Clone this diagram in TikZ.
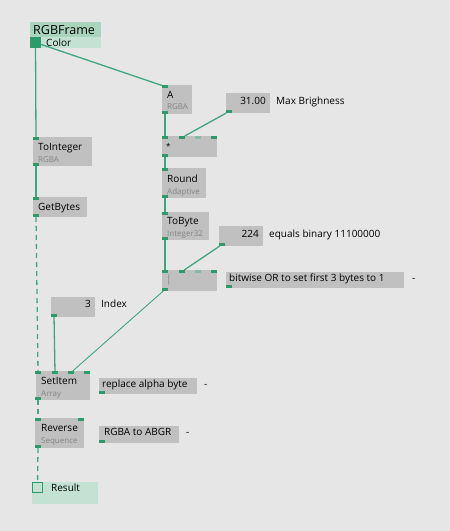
\documentclass[tikz,border=0pt]{standalone}
\usepackage{fontspec}
\setmainfont{Open Sans}
\usepackage{xcolor}
\usetikzlibrary{positioning, calc}

\definecolor{bgcol}{HTML}{E6E6E6}
\definecolor{boxgray}{HTML}{C0C0C0}
\definecolor{pingreen}{HTML}{2D9A6C}
\definecolor{pinoff}{HTML}{86B9A2}
\definecolor{wiregreen}{HTML}{3FA67D}
\definecolor{headgreen}{HTML}{A9D5BF}
\definecolor{bodygreen}{HTML}{C3E2D3}
\definecolor{subgray}{HTML}{858585}

\begin{document}
\begin{tikzpicture}[
        x=1pt, y=-1pt,
        patch/.style={rectangle, fill=boxgray, anchor=north west, inner sep=0pt, outer sep=0pt},
        inpin/.style={rectangle, fill=pingreen, minimum width=6pt, minimum height=3pt, inner sep=0pt, outer sep=0pt, anchor=north west},
        outpin/.style={inpin, anchor=south west},
        offpin/.style={inpin, fill=pinoff},
        ttl/.style={anchor=base west, inner sep=0pt, font=\fontsize{10}{12}\selectfont},
        sub/.style={anchor=base west, inner sep=0pt, text=subgray, font=\fontsize{8}{9}\selectfont},
        val/.style={anchor=base east, inner sep=0pt, font=\fontsize{10}{12}\selectfont},
        wire/.style={draw=wiregreen, line width=1.3pt},
        thinwire/.style={draw=wiregreen, line width=0.9pt},
        spreadwire/.style={wire, dash pattern=on 5pt off 4pt}
    ]
        \useasboundingbox (0,0) rectangle (450,531);
        \fill[bgcol] (0,0) rectangle (450,531);

        % RGBFrame
        \node[patch, fill=headgreen, minimum width=71pt, minimum height=15pt] (frame) at (30,22) {};
        \node[patch, fill=bodygreen, minimum width=71pt, minimum height=11pt] (framebody) at (30,37) {};
        \node[patch, fill=pingreen, minimum width=11pt, minimum height=11pt] (frame-out) at (30,37) {};
        \node[ttl, font=\fontsize{12.5}{14}\selectfont] (frame-t) at (33,34) {RGBFrame};
        \node[ttl] (frame-s) at (46,46) {Color};

        % A (RGBA)
        \node[patch, minimum width=30pt, minimum height=29pt] (a) at (162,85) {};
        \node[inpin] (a-in) at (162,85) {};
        \node[outpin] (a-out) at (162,114) {};
        \node[ttl] (a-t) at (167,98) {A};
        \node[sub] (a-s) at (167,109) {RGBA};

        % Max Brighness
        \node[patch, minimum width=44pt, minimum height=20pt] (val31) at (226,93) {};
        \node[outpin] (val31-out) at (226,113) {};
        \node[val] (val31-t) at (266,104) {31.00};
        \node[ttl] (val31-l) at (276,104) {Max Brighness};

        % Multiply
        \node[patch, minimum width=55pt, minimum height=21pt] (mul) at (162,136) {};
        \node[inpin] (mul-in1) at (162,136) {};
        \node[inpin] (mul-in2) at (179,136) {};
        \node[offpin] (mul-in3) at (195,136) {};
        \node[inpin] (mul-in4) at (211,136) {};
        \node[outpin] (mul-out) at (162,157) {};
        \node[ttl, font=\fontsize{8}{9}\selectfont] (mul-t) at (166,149) {*};

        % ToInteger
        \node[patch, minimum width=59pt, minimum height=29pt] (toint) at (33,137) {};
        \node[inpin] (toint-in) at (33,137) {};
        \node[outpin] (toint-out) at (33,166) {};
        \node[ttl] (toint-t) at (38,150) {ToInteger};
        \node[sub] (toint-s) at (38,162) {RGBA};

        % GetBytes
        \node[patch, minimum width=54pt, minimum height=20pt] (getb) at (33,197) {};
        \node[inpin] (getb-in) at (33,197) {};
        \node[outpin] (getb-out) at (33,217) {};
        \node[ttl] (getb-t) at (38,210) {GetBytes};

        % Round
        \node[patch, minimum width=44pt, minimum height=30pt] (round) at (162,168) {};
        \node[inpin] (round-in) at (162,168) {};
        \node[outpin] (round-out) at (162,198) {};
        \node[ttl] (round-t) at (167,182) {Round};
        \node[sub] (round-s) at (167,194) {Adaptive};

        % ToByte
        \node[patch, minimum width=47pt, minimum height=28pt] (tobyte) at (162,212) {};
        \node[inpin] (tobyte-in) at (162,212) {};
        \node[outpin] (tobyte-out) at (162,240) {};
        \node[ttl] (tobyte-t) at (167,224) {ToByte};
        \node[sub] (tobyte-s) at (167,236) {Integer32};

        % mask value
        \node[patch, minimum width=44pt, minimum height=20pt] (val224) at (219,226) {};
        \node[outpin] (val224-out) at (219,246) {};
        \node[val] (val224-t) at (259,237) {224};
        \node[ttl] (val224-l) at (269,237) {equals binary 11100000};

        % bitwise OR
        \node[patch, minimum width=55pt, minimum height=21pt] (bor) at (162,270) {};
        \node[inpin] (bor-in1) at (162,270) {};
        \node[inpin] (bor-in2) at (179,270) {};
        \node[offpin] (bor-in3) at (195,270) {};
        \node[inpin] (bor-in4) at (211,270) {};
        \node[outpin] (bor-out) at (162,291) {};
        \node[ttl, text=subgray] (bor-t) at (166,282) {|};

        % comments
        \node[patch, minimum width=178pt, minimum height=16pt] (cmtor) at (226,272) {};
        \node[outpin] (cmtor-out) at (226,288) {};
        \node[ttl] (cmtor-t) at (229,281) {bitwise OR to set first 3 bytes to 1};
        \node[ttl] (cmtor-d) at (412,281) {-};

        % Index
        \node[patch, minimum width=44pt, minimum height=20pt] (idx) at (51,297) {};
        \node[outpin] (idx-out) at (51,317) {};
        \node[val] (idx-t) at (91,307) {3};
        \node[ttl] (idx-l) at (101,307) {Index};

        % SetItem
        \node[patch, minimum width=54pt, minimum height=29pt] (setitem) at (36,371) {};
        \node[inpin] (setitem-in1) at (35,371) {};
        \node[inpin] (setitem-in2) at (52,371) {};
        \node[inpin] (setitem-in3) at (68,371) {};
        \node[inpin] (setitem-in4) at (84,371) {};
        \node[outpin] (setitem-out) at (35,400) {};
        \node[ttl] (setitem-t) at (41,384) {SetItem};
        \node[sub] (setitem-s) at (41,396) {Array};

        \node[patch, minimum width=98pt, minimum height=16pt] (cmtalpha) at (99,378) {};
        \node[outpin] (cmtalpha-out) at (99,394) {};
        \node[ttl] (cmtalpha-t) at (102,387) {replace alpha byte};
        \node[ttl] (cmtalpha-d) at (204,387) {-};

        % Reverse
        \node[patch, minimum width=49pt, minimum height=30pt] (rev) at (35,418) {};
        \node[inpin] (rev-in1) at (35,418) {};
        \node[inpin] (rev-in2) at (78,418) {};
        \node[outpin] (rev-out) at (35,448) {};
        \node[ttl] (rev-t) at (41,431) {Reverse};
        \node[sub] (rev-s) at (41,443) {Sequence};

        \node[patch, minimum width=80pt, minimum height=17pt] (cmtrev) at (99,426) {};
        \node[outpin] (cmtrev-out) at (99,443) {};
        \node[ttl] (cmtrev-t) at (104,435) {RGBA to ABGR};
        \node[ttl] (cmtrev-d) at (186,435) {-};

        % Result
        \node[patch, fill=bodygreen, minimum width=66pt, minimum height=22pt] (result) at (32,482) {};
        \node[patch, fill=bodygreen, draw=pingreen, line width=1pt, minimum width=10pt, minimum height=10pt] (result-in) at (32.5,482.5) {};
        \node[ttl] (result-t) at (51,491) {Result};

        % links
        \draw[wire] (frame-out) -- (toint-in);
        \draw[wire] (frame-out) -- (a-in);
        \draw[wire] (a-out) -- (mul-in1);
        \draw[wire] (val31-out) -- (mul-in2);
        \draw[wire] (mul-out) -- (round-in);
        \draw[wire] (round-out) -- (tobyte-in);
        \draw[wire] (tobyte-out) -- (bor-in1);
        \draw[wire] (val224-out) -- (bor-in2);
        \draw[thinwire] (bor-out) -- (setitem-in3);
        \draw[wire] (toint-out) -- (getb-in);
        \draw[spreadwire] (getb-out) -- (setitem-in1);
        \draw[wire] (idx-out) -- (setitem-in2);
        \draw[spreadwire] (setitem-out) -- (rev-in1);
        \draw[spreadwire] (rev-out) -- (result-in);
    \end{tikzpicture}
\end{document}
